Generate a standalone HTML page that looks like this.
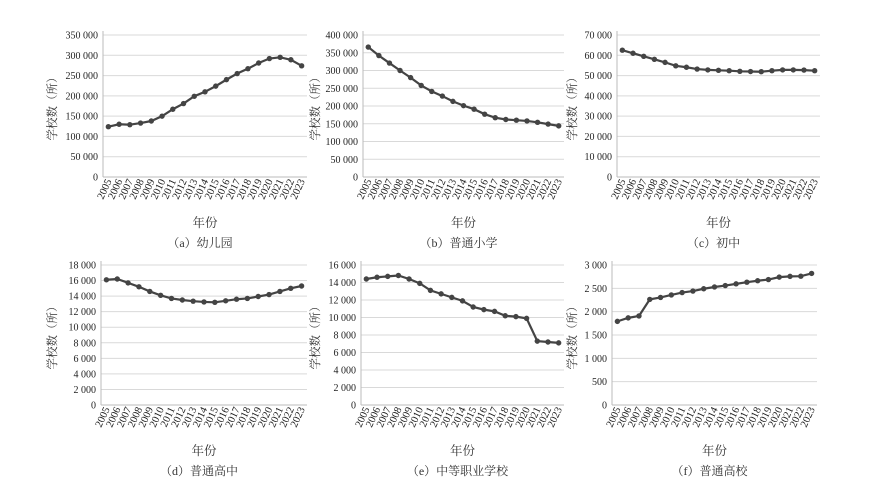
<!DOCTYPE html><html><head><meta charset="utf-8"><style>body{margin:0;background:#fff}svg{display:block}</style></head><body>
<svg id="s" width="885" height="491" xmlns="http://www.w3.org/2000/svg" font-family="'Liberation Serif','Noto Serif CJK SC',serif"></svg>
<script>
const P=[
{l:103,r:307,t:35,b:177,max:350000,step:50000,yl:52,cy:106,cap:"（a）幼儿园",d:[124,130,129,133,138,150,167,181,199,210,224,240,255,267,281,292,295,289,274].map(v=>v*1000)},
{l:363,r:564,t:35,b:177,max:400000,step:50000,yl:315,cy:106,cap:"（b）普通小学",d:[366,342,321,300,280,258,241,228,213,201,191,177,167,162,160,158,154,149,144].map(v=>v*1000)},
{l:617,r:820,t:35,b:177,max:70000,step:10000,yl:572,cy:106,cap:"（c）初中",d:[62.5,61,59.5,58,56.5,54.8,54.1,53.2,52.8,52.6,52.4,52.1,52,51.9,52.4,52.8,52.8,52.7,52.4].map(v=>v*1000)},
{l:101,r:307,t:265,b:405,max:18000,step:2000,yl:52,cy:335,cap:"（d）普通高中",d:[16.1,16.2,15.7,15.2,14.6,14.1,13.7,13.5,13.35,13.25,13.2,13.4,13.6,13.7,13.95,14.2,14.6,15.0,15.3].map(v=>v*1000)},
{l:361,r:564,t:265,b:405,max:16000,step:2000,yl:315,cy:335,cap:"（e）中等职业学校",d:[14.4,14.6,14.7,14.8,14.4,13.9,13.1,12.7,12.3,11.9,11.2,10.9,10.7,10.2,10.1,9.9,7.3,7.2,7.1].map(v=>v*1000)},
{l:612,r:817,t:265,b:405,max:3000,step:500,yl:572,cy:335,cap:"（f）普通高校",d:[1792,1867,1908,2263,2305,2358,2409,2442,2491,2529,2560,2596,2631,2663,2688,2740,2756,2760,2820]}
];
const fmt=v=>v>=1000?Math.floor(v/1000)+" "+String(v%1000).padStart(3,"0"):String(v);
let h="";
P.forEach(p=>{
 const n=p.d.length,w=(p.r-p.l)/n,Y=v=>p.b-(p.b-p.t)*v/p.max,X=i=>p.l+w*(i+0.5);
 for(let v=0;v<=p.max;v+=p.step){const y=Y(v);
  if(v>0)h+=`<line x1="${p.l}" x2="${p.r}" y1="${y}" y2="${y}" stroke="#d9d9d9" stroke-width="1"/>`;
  h+=`<text x="${p.l-5}" y="${y+3.5}" font-size="10" text-anchor="end" fill="#222">${fmt(v)}</text>`;}
 h+=`<line x1="${p.l}" x2="${p.l}" y1="${p.t-4}" y2="${p.b}" stroke="#bbb"/><line x1="${p.l}" x2="${p.r}" y1="${p.b}" y2="${p.b}" stroke="#bbb"/>`;
 for(let i=0;i<n;i++){const x=X(i)+3.5;h+=`<text transform="translate(${x},${p.b+4}) rotate(-65)" font-size="10.5" text-anchor="end" fill="#222">${2005+i}</text>`;}
 h+=`<polyline fill="none" stroke="#444" stroke-width="2.2" points="${p.d.map((v,i)=>X(i)+","+Y(v)).join(" ")}"/>`;
 p.d.forEach((v,i)=>h+=`<circle cx="${X(i)}" cy="${Y(v)}" r="2.7" fill="#444"/>`);
 h+=`<text transform="translate(${p.yl+4},${p.cy}) rotate(-90)" font-size="11.5" text-anchor="middle" fill="#333">学校数（所）</text>`;
 const cx=(p.l+p.r)/2;
 h+=`<text x="${cx}" y="${p.b+50}" font-size="12.5" text-anchor="middle" fill="#333">年份</text>`;
 h+=`<text x="${cx-5}" y="${p.b+70}" font-size="12" text-anchor="middle" fill="#333">${p.cap}</text>`;
});
document.getElementById("s").innerHTML=h;
</script></body></html>
